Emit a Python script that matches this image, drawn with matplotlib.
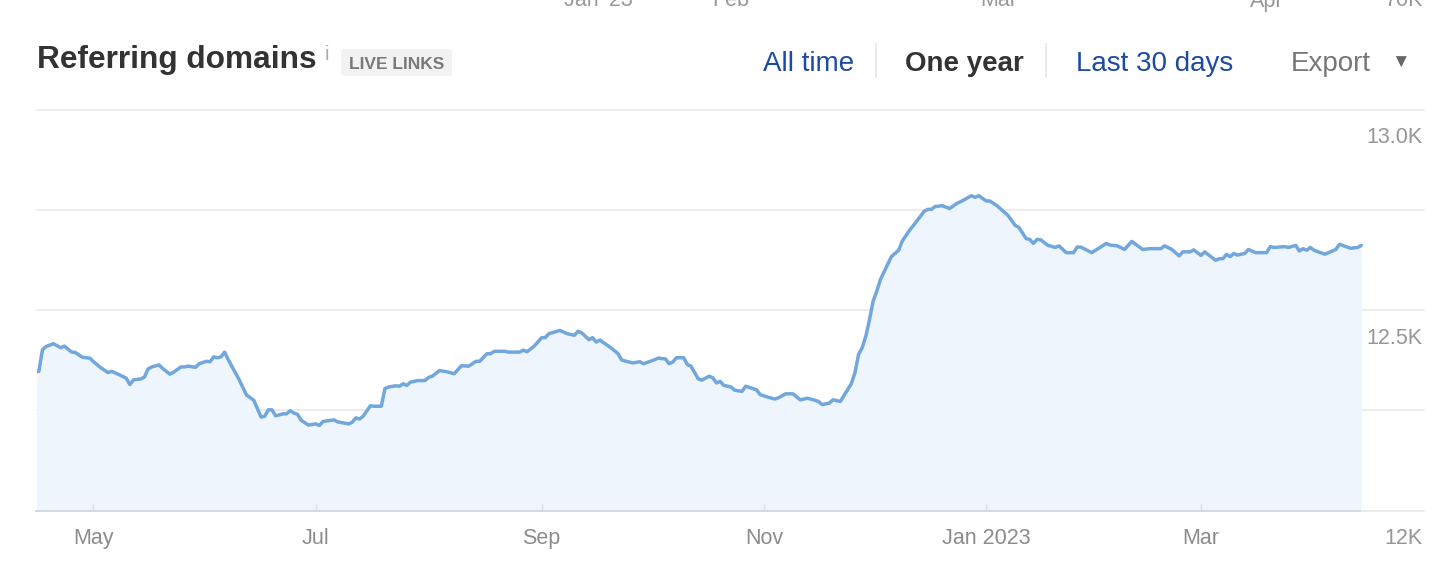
import matplotlib
matplotlib.use('Agg')
import matplotlib.pyplot as plt
import matplotlib.dates as mdates
import matplotlib.transforms as mtransforms
from matplotlib.patches import FancyBboxPatch
from matplotlib.lines import Line2D
import pandas as pd

plt.rcParams['font.family'] = ['Liberation Sans', 'DejaVu Sans']

START = pd.Timestamp('2022-05-01')

# days after May 1 2022, and referring domains on that day
days = [
    -16, -15, -14, -13, -11, -9, -8, -6, -5, -3,
    -1, 0, 2, 4, 5, 7, 9, 10, 11, 13,
    14, 15, 16, 18, 19, 21, 22, 24, 25, 26,
    28, 29, 31, 32, 33, 34, 35, 36, 37, 40,
    42, 44, 46, 47, 48, 49, 50, 52, 53, 54,
    55, 56, 57, 59, 61, 62, 63, 66, 67, 70,
    71, 72, 73, 74, 76, 77, 79, 80, 81, 83,
    84, 85, 86, 87, 89, 91, 92, 93, 95, 97,
    99, 101, 103, 105, 106, 108, 109, 110, 113, 114,
    117, 118, 119, 121, 123, 124, 125, 128, 130, 132,
    133, 134, 136, 137, 138, 139, 142, 144, 145, 148,
    150, 151, 154, 155, 157, 158, 159, 160, 162, 163,
    164, 166, 167, 169, 170, 171, 172, 173, 175, 176,
    178, 179, 182, 183, 185, 187, 188, 190, 192, 194,
    196, 198, 199, 200, 202, 203, 205, 207, 208, 209,
    210, 211, 212, 213, 214, 215, 216, 218, 219, 221,
    222, 224, 225, 228, 229, 230, 231, 233, 235, 237,
    238, 239, 241, 242, 243, 245, 246, 248, 251, 253,
    254, 256, 257, 258, 259, 260, 262, 264, 265, 267,
    269, 270, 271, 274, 278, 279, 281, 283, 285, 288,
    290, 293, 294, 296, 298, 299, 301, 302, 304, 305,
    308, 309, 310, 311, 312, 313, 314, 316, 317, 319,
    322, 323, 324, 327, 328, 330, 331, 332, 333, 334,
    335, 338, 341, 342, 345, 347, 348,
]
domains = [
    12347, 12347, 12401, 12409, 12416, 12406, 12410, 12395, 12394, 12382,
    12380, 12371, 12356, 12344, 12347, 12339, 12330, 12314, 12326, 12328,
    12333, 12353, 12358, 12363, 12354, 12340, 12345, 12358, 12358, 12360,
    12357, 12366, 12372, 12371, 12383, 12381, 12383, 12395, 12376, 12326,
    12288, 12275, 12233, 12235, 12251, 12251, 12236, 12241, 12241, 12249,
    12243, 12240, 12225, 12213, 12216, 12212, 12222, 12226, 12221, 12216,
    12220, 12231, 12228, 12235, 12261, 12260, 12260, 12304, 12308, 12311,
    12310, 12316, 12312, 12320, 12324, 12324, 12332, 12335, 12349, 12346,
    12341, 12361, 12360, 12372, 12372, 12391, 12391, 12397, 12397, 12395,
    12395, 12400, 12396, 12410, 12431, 12431, 12441, 12449, 12441, 12437,
    12447, 12443, 12426, 12431, 12420, 12425, 12406, 12391, 12375, 12368,
    12371, 12366, 12376, 12380, 12378, 12366, 12370, 12381, 12381, 12364,
    12360, 12328, 12325, 12335, 12331, 12318, 12322, 12312, 12308, 12300,
    12297, 12310, 12301, 12289, 12283, 12278, 12281, 12291, 12291, 12276,
    12280, 12275, 12272, 12264, 12268, 12276, 12272, 12301, 12316, 12343,
    12389, 12406, 12435, 12476, 12522, 12547, 12576, 12614, 12633, 12649,
    12672, 12699, 12710, 12746, 12751, 12751, 12758, 12760, 12753, 12766,
    12770, 12775, 12785, 12781, 12785, 12772, 12772, 12760, 12736, 12711,
    12706, 12678, 12676, 12666, 12676, 12675, 12661, 12656, 12660, 12643,
    12643, 12657, 12657, 12643, 12666, 12662, 12660, 12651, 12671, 12651,
    12653, 12653, 12660, 12651, 12635, 12645, 12645, 12650, 12636, 12645,
    12624, 12628, 12628, 12639, 12633, 12641, 12637, 12641, 12651, 12643,
    12643, 12658, 12656, 12658, 12656, 12661, 12647, 12653, 12649, 12656,
    12649, 12639, 12651, 12664, 12654, 12656, 12661,
]

tick_dates = ['2022-05-01', '2022-07-01', '2022-09-01', '2022-11-01', '2023-01-01', '2023-03-01']
tick_labels = ['May', 'Jul', 'Sep', 'Nov', 'Jan 2023', 'Mar']
grid_values = [12000, 12250, 12500, 12750, 13000]
ylabel_values = [12000, 12500, 13000]
ylabel_texts = ['12K', '12.5K', '13.0K']

# bits of the chart above that peek in at the top edge
top_labels = ["Jan '23", 'Feb', 'Mar', 'Apr']

W, H = 1454, 588
GRAY_GRID = '#e9e9e9'


def fx(x):
    return x / W


def fy(y):
    return 1 - y / H


fig = plt.figure(figsize=(W / 100, H / 100), dpi=100)
fig.patch.set_facecolor('white')

ax = fig.add_axes([fx(37), fy(510.5), (1424 - 37) / W, (510.5 - 109.5) / H])
dates = START + pd.to_timedelta(days, unit='D')
x0 = mdates.date2num(START)
ax.set_xlim(x0 - 15.5, x0 + 365.2)
ax.set_ylim(12000, 13000)

for g in grid_values:
    ax.axhline(g, color=GRAY_GRID, lw=1.2, zorder=0, clip_on=False)

ax.fill_between(dates, domains, 12000, color='#eff5fd', lw=0, zorder=1)
ax.plot([dates[0], dates[-1]], [12000, 12000], color='#d5d8dc', lw=1.4,
        zorder=2, clip_on=False, solid_capstyle='butt')
ax.plot(dates, domains, color='#72a7dd', lw=2.5, zorder=3,
        solid_joinstyle='round', solid_capstyle='round')

for s in ax.spines.values():
    s.set_visible(False)
ax.set_xticks(pd.to_datetime(tick_dates))
ax.set_xticklabels(tick_labels)
ax.tick_params(axis='x', direction='in', length=5, width=1, color='#dcdfe3',
               pad=12.5, labelsize=15.5, labelcolor='#8c8c8c')
ax.set_yticks([])

# y labels sit right-aligned, just under their gridline
off = mtransforms.ScaledTranslation(-0.015, -0.28, fig.dpi_scale_trans)
trans = mtransforms.blended_transform_factory(ax.transAxes, ax.transData) + off
for v, t in zip(ylabel_values, ylabel_texts):
    ax.text(1.0, v, t, transform=trans, ha='right', va='center',
            fontsize=15.5, color='#969696', clip_on=False)

# header
fig.text(fx(37), fy(68), 'Referring domains', fontsize=22.8, fontweight='bold',
         color='#333333', ha='left', va='baseline')
fig.text(fx(325), fy(60), 'i', fontsize=14.5, color='#aaaaaa', ha='left', va='baseline')
badge = FancyBboxPatch((341 / 100, (H - 76) / 100), 111 / 100, 27 / 100,
                       boxstyle='round,pad=0,rounding_size=0.04',
                       transform=fig.dpi_scale_trans, facecolor='#f2f2f2',
                       edgecolor='none')
fig.patches.append(badge)
fig.text(fx(349), fy(69), 'LIVE LINKS', fontsize=12.5, fontweight='bold',
         color='#7a7a7a', ha='left', va='baseline')

nav = [('All time', 763, '#1c4ba0', 'normal'),
       ('One year', 905.5, '#333333', 'bold'),
       ('Last 30 days', 1075.5, '#1c4ba0', 'normal'),
       ('Export', 1291, '#777777', 'normal')]
for label, x, c, w in nav:
    fig.text(fx(x), fy(70.7), label, fontsize=20, fontweight=w, color=c,
             ha='left', va='baseline')
for x in (875.5, 1046):
    fig.add_artist(Line2D([fx(x), fx(x)], [fy(44), fy(77)], color='#e6e6e6',
                          lw=1.2, transform=fig.transFigure))
fig.text(fx(1400), fy(63), '\u25bc', fontsize=13.5, color='#666666',
         ha='center', va='center')

for label, x in zip(top_labels, [598, 731, 999, 1267]):
    fig.text(fx(x), fy(6.5), label, fontsize=15.5, color='#999999',
             ha='center', va='baseline')
fig.text(fx(1423), fy(6.5), '70K', fontsize=15.5, color='#999999',
         ha='right', va='baseline')

fig.savefig('out.png', dpi=100, facecolor='white')
